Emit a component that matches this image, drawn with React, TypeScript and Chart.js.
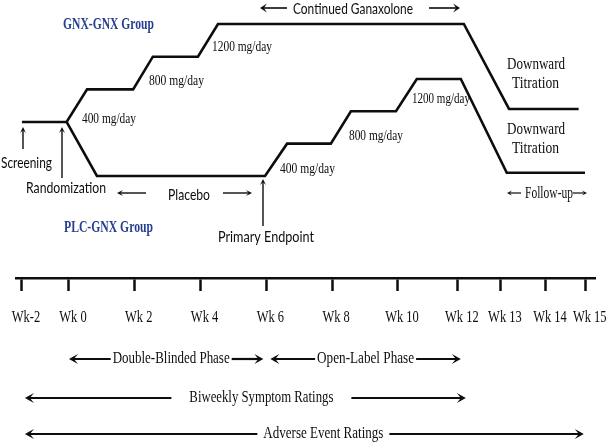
import React, { useEffect, useRef } from 'react';
import { Chart, registerables, LinearScale } from 'chart.js';

// ---------- data ----------
const WEEKS = [-2, 0, 2, 4, 6, 8, 10, 12, 13, 14, 15];
const WEEK_LABELS = ['Wk-2', 'Wk 0', 'Wk 2', 'Wk 4', 'Wk 6', 'Wk 8', 'Wk 10', 'Wk 12', 'Wk 13', 'Wk 14', 'Wk 15'];

// GNX-GNX arm (dose mg/day on its own schematic axis)
const GNX_WEEK = [-2, -0.1, 0.55, 1.95, 2.55, 3.92, 4.53, 12.14, 13.18, 14.82];
const GNX_DOSE = [0, 0, 400, 400, 800, 800, 1200, 1200, 160, 160];

// PLC-GNX arm (dose mg/day on its own schematic axis; first point = randomization)
const PLC_WEEK = [-0.1, 0.85, 5.96, 6.63, 7.96, 8.57, 9.94, 10.63, 12.07, 13.13, 14.98];
const PLC_DOSE = [670, 0, 0, 400, 400, 800, 800, 1200, 1200, 40, 40];

// study phases (weeks)
const PHASE_NAMES = ['Double-Blinded Phase', 'Open-Label Phase', 'Biweekly Symptom Ratings', 'Adverse Event Ratings'];
const PHASE_START = [0, 6, -2, -2];
const PHASE_END = [6, 12, 12, 15];

// ---------- layout (non-uniform week axis of the schematic) ----------
const AXIS_WEEKS = [-2, 0, 10, 12, 13, 14, 15];
const AXIS_UNITS = [-1.43, 0, 10, 11.82, 13.13, 14.5, 15.71];

function weekToUnit(w: number) {
  const n = AXIS_WEEKS.length;
  let i = 0;
  if (w <= AXIS_WEEKS[0]) i = 0;
  else if (w >= AXIS_WEEKS[n - 1]) i = n - 2;
  else {
    while (i < n - 2 && w > AXIS_WEEKS[i + 1]) i++;
  }
  const t = (w - AXIS_WEEKS[i]) / (AXIS_WEEKS[i + 1] - AXIS_WEEKS[i]);
  return AXIS_UNITS[i] + t * (AXIS_UNITS[i + 1] - AXIS_UNITS[i]);
}

class WeekScale extends LinearScale {
  static id = 'week';
  static defaults = {};
  getPixelForValue(value: any) {
    if (value === null || value === undefined) return NaN;
    return super.getPixelForValue(weekToUnit(value));
  }
}

Chart.register(...registerables, WeekScale);

const SERIF = "'Liberation Serif', 'Times New Roman', serif";
const SANS = "Lato, 'Liberation Sans', sans-serif";
const NAVY = '#263f8e';
const INK = '#0d0d0d';

function fitText(ctx: CanvasRenderingContext2D, text: string, cx: number, cy: number, w: number, font: string, color = INK) {
  ctx.save();
  ctx.font = font;
  ctx.fillStyle = color;
  ctx.textAlign = 'center';
  ctx.textBaseline = 'middle';
  const m = ctx.measureText(text).width || 1;
  ctx.translate(cx, cy);
  ctx.scale(w / m, 1);
  ctx.fillText(text, 0, 0);
  ctx.restore();
}

function arrow(ctx: CanvasRenderingContext2D, x1: number, y1: number, x2: number, y2: number, lw: number, hl: number, hw: number) {
  const dx = x2 - x1, dy = y2 - y1;
  const len = Math.hypot(dx, dy) || 1;
  const ux = dx / len, uy = dy / len;
  const nx = -uy, ny = ux;
  ctx.save();
  ctx.strokeStyle = INK;
  ctx.fillStyle = INK;
  ctx.lineWidth = lw;
  ctx.beginPath();
  ctx.moveTo(x1, y1);
  ctx.lineTo(x2 - ux * hl * 0.5, y2 - uy * hl * 0.5);
  ctx.stroke();
  ctx.beginPath();
  ctx.moveTo(x2, y2);
  ctx.lineTo(x2 - ux * hl + nx * hw, y2 - uy * hl + ny * hw);
  ctx.lineTo(x2 - ux * hl * 0.55, y2 - uy * hl * 0.55);
  ctx.lineTo(x2 - ux * hl - nx * hw, y2 - uy * hl - ny * hw);
  ctx.closePath();
  ctx.fill();
  ctx.restore();
}

const annotationPlugin = {
  id: 'studyAnnotations',
  afterDraw(chart: any) {
    const ctx: CanvasRenderingContext2D = chart.ctx;
    const xs = chart.scales.x;

    // week tick labels
    WEEK_LABELS.forEach((lab, i) => {
      const px = xs.getPixelForValue(WEEKS[i]) + 4;
      ctx.save();
      ctx.font = `16px ${SERIF}`;
      ctx.fillStyle = INK;
      ctx.textAlign = 'center';
      ctx.textBaseline = 'middle';
      ctx.translate(px, 318);
      ctx.scale(0.78, 1);
      ctx.fillText(lab, 0, 0);
      ctx.restore();
    });

    // group labels
    fitText(ctx, 'GNX-GNX Group', 108.5, 25, 91, `bold 16px ${SERIF}`, NAVY);
    fitText(ctx, 'PLC-GNX Group', 108.5, 228, 89, `bold 16px ${SERIF}`, NAVY);

    // dose labels
    const mg = `14px ${SERIF}`;
    fitText(ctx, '1200 mg/day', 242, 47, 60, mg);
    fitText(ctx, '800 mg/day', 176.5, 81, 55, mg);
    fitText(ctx, '400 mg/day', 109, 119, 54, mg);
    fitText(ctx, '1200 mg/day', 441, 99, 58, mg);
    fitText(ctx, '800 mg/day', 376, 136, 54, mg);
    fitText(ctx, '400 mg/day', 307.5, 169, 55, mg);

    // continued ganaxolone
    fitText(ctx, 'Continued Ganaxolone', 353, 9, 120, `16px ${SANS}`);
    arrow(ctx, 287, 8, 260, 8, 1.6, 7, 4.5);
    arrow(ctx, 429, 8, 460, 8, 1.6, 7, 4.5);

    // downward titration
    const dt = `16px ${SERIF}`;
    fitText(ctx, 'Downward', 536, 65, 58, dt);
    fitText(ctx, 'Titration', 535.5, 84, 47, dt);
    fitText(ctx, 'Downward', 536, 130, 58, dt);
    fitText(ctx, 'Titration', 535.5, 149, 47, dt);

    // screening / randomization / placebo / endpoint
    const sn = `16px ${SANS}`;
    fitText(ctx, 'Screening', 26.5, 163, 51, sn);
    arrow(ctx, 23, 149, 23, 127, 1.4, 6, 3);
    fitText(ctx, 'Randomization', 66, 188, 80, sn);
    arrow(ctx, 62, 178, 62, 127, 1.4, 6, 3);
    fitText(ctx, 'Placebo', 189, 195, 42, sn);
    arrow(ctx, 146, 193, 117, 193, 1.4, 6, 3);
    arrow(ctx, 223, 193, 252, 193, 1.4, 6, 3);
    fitText(ctx, 'Primary Endpoint', 266, 237, 96, sn);
    arrow(ctx, 263, 226, 263, 179, 1.4, 6, 3);

    // follow-up
    fitText(ctx, 'Follow-up', 549, 194, 48, `16px ${SERIF}`);
    arrow(ctx, 521, 193, 507, 193, 1.2, 5, 2.5);
    arrow(ctx, 573, 193, 587, 193, 1.2, 5, 2.5);

    // phase rows
    const rowY = [359, 359, 398, 434];
    const textShift = [5, 0, 20, 19];
    const textW = [117, 97, 144, 120];
    const gap = [2, 2, 18, 6];
    PHASE_NAMES.forEach((name, i) => {
      let x1 = xs.getPixelForValue(PHASE_START[i]);
      let x2 = xs.getPixelForValue(PHASE_END[i]);
      if (i === 0) x2 -= 3;
      if (i === 1) { x1 += 4; x2 += 3; }
      if (i >= 2) x1 += 3;
      if (i === 2) x2 += 8;
      if (i === 3) x2 -= 2;
      const cx = (x1 + x2) / 2 + textShift[i] - (i === 2 ? 4 : 0);
      const y = rowY[i];
      fitText(ctx, name, cx, y, textW[i], `16px ${SERIF}`);
      arrow(ctx, cx - textW[i] / 2 - gap[i], y, x1, y, 2.2, 9, 5);
      arrow(ctx, cx + textW[i] / 2 + gap[i], y, x2, y, 2.2, 9, 5);
    });
  },
};

export default function App() {
  const ref = useRef<HTMLCanvasElement | null>(null);
  useEffect(() => {
    if (!ref.current) return;
    const chart = new Chart(ref.current, {
      type: 'line',
      data: {
        datasets: [
          {
            label: 'GNX-GNX Group',
            data: GNX_WEEK.map((w, i) => ({ x: w, y: GNX_DOSE[i] })),
            yAxisID: 'y',
            borderColor: INK,
            borderWidth: 2.6,
            pointRadius: 0,
            tension: 0,
            fill: false,
          },
          {
            label: 'PLC-GNX Group',
            data: PLC_WEEK.map((w, i) => ({ x: w, y: PLC_DOSE[i] })),
            yAxisID: 'y2',
            borderColor: INK,
            borderWidth: 2.6,
            pointRadius: 0,
            tension: 0,
            fill: false,
          },
        ],
      },
      options: {
        animation: false,
        responsive: false,
        maintainAspectRatio: false,
        layout: { padding: { left: 16, right: 14, top: 0, bottom: 154 } },
        plugins: { legend: { display: false }, tooltip: { enabled: false } },
        scales: {
          x: {
            type: 'week' as any,
            min: -1.61,
            max: 15.99,
            bounds: 'data',
            afterBuildTicks: (axis: any) => {
              axis.ticks = WEEKS.map((v) => ({ value: v }));
            },
            ticks: { display: false, autoSkip: false },
            grid: { drawOnChartArea: false, drawTicks: true, tickLength: 13, tickWidth: 2.5, tickColor: INK },
            border: { display: true, color: INK, width: 2.5 },
          },
          y: { display: false, min: -1910, max: 1494 },
          y2: { display: false, min: -1262, max: 2177 },
        },
      } as any,
      plugins: [annotationPlugin],
    });
    return () => chart.destroy();
  }, []);
  return (
    <div style={{ position: 'fixed', left: 0, top: 0, width: 609, height: 445, background: '#fff' }}>
      <canvas ref={ref} width={609} height={445} style={{ display: 'block' }} />
    </div>
  );
}
